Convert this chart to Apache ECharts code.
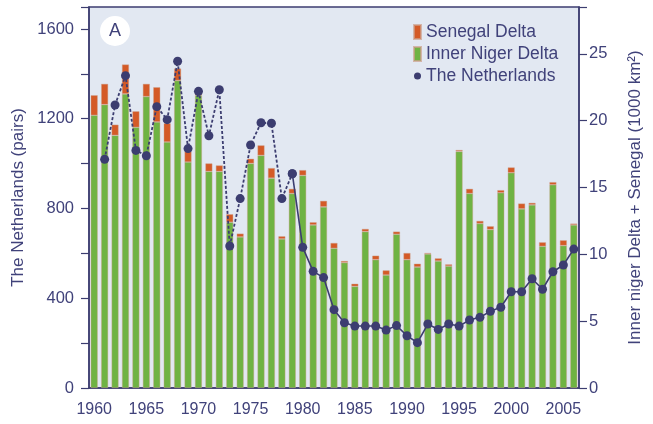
<!DOCTYPE html>
<html>
<head>
<meta charset="utf-8">
<script src="https://cdn.jsdelivr.net/npm/echarts@6/dist/echarts.min.js"></script>
<style>
  html, body { margin: 0; padding: 0; background: #fff; }
  #chart { width: 653px; height: 424px; }
</style>
</head>
<body>
<div id="chart"></div>
<script>
// years on the x axis
const years = [
  '1960', '1961', '1962', '1963', '1964', '1965', '1966', '1967', '1968', '1969',
  '1970', '1971', '1972', '1973', '1974', '1975', '1976', '1977', '1978', '1979',
  '1980', '1981', '1982', '1983', '1984', '1985', '1986', '1987', '1988', '1989',
  '1990', '1991', '1992', '1993', '1994', '1995', '1996', '1997', '1998', '1999',
  '2000', '2001', '2002', '2003', '2004', '2005', '2006'
];

// flooded area, 1000 km2 (right axis)
const innerNiger = [
  20.4, 21.2, 18.9, 22.0, 19.5, 21.8, 19.9, 18.4, 23.0, 16.9,
  21.9, 16.2, 16.2, 12.4, 11.3, 16.8, 17.4, 15.7, 11.15, 14.55,
  15.9, 12.2, 13.55, 10.45, 9.38, 7.6, 11.7, 9.6, 8.45, 11.5,
  9.6, 9.05, 10.03, 9.5, 9.12, 17.7, 14.55, 12.3, 11.85, 14.6,
  16.1, 13.4, 13.7, 10.6, 15.2, 10.65, 12.2
];
const senegal = [
  1.5, 1.55, 0.8, 2.2, 1.2, 0.95, 2.6, 1.4, 0.9, 0.8,
  0.3, 0.6, 0.45, 0.6, 0.25, 0.35, 0.75, 0.75, 0.2, 0.35,
  0.4, 0.2, 0.45, 0.4, 0.12, 0.2, 0.2, 0.3, 0.35, 0.2,
  0.5, 0.25, 0.07, 0.2, 0.13, 0.1, 0.35, 0.2, 0.25, 0.2,
  0.4, 0.4, 0.15, 0.3, 0.2, 0.4, 0.1
];

// breeding pairs in the Netherlands (left axis)
const netherlands = [
  null, 1019, 1261, 1392, 1059, 1035, 1254, 1196, 1456, 1067,
  1322, 1124, 1329, 633, 844, 1083, 1182, 1180, 844, 955,
  627, 520, 492, 349, 291, 276, 276, 276, 258, 278,
  233, 202, 285, 261, 285, 276, 303, 315, 342, 360,
  429, 429, 487, 440, 518, 548, 619
];
const dashedUntil = '1979'; // line is dashed up to this year, solid after

const navy = '#3c3d70';
const textColor = '#40427a';
const green = '#6fb343';
const orange = '#d45a27';

const splitIdx = years.indexOf(dashedUntil);
const nlDashed = netherlands.map((v, i) => (i <= splitIdx ? v : null));
const nlSolid = netherlands.map((v, i) => (i >= splitIdx ? v : null));

const chart = echarts.init(document.getElementById('chart'), null, { renderer: 'canvas' });

const barBorder = { borderColor: 'rgba(205,160,140,0.7)', borderWidth: 0.6 };

const option = {
  animation: false,
  textStyle: { fontFamily: 'Liberation Sans, Arial, sans-serif' },
  grid: {
    left: 89, right: 74, top: 7, bottom: 36,
    show: true,
    backgroundColor: '#e2e8f2',
    borderColor: navy,
    borderWidth: 1.5
  },
  legend: {
    orient: 'vertical',
    left: 408,
    top: 18,
    itemWidth: 7,
    itemHeight: 14,
    itemGap: 4,
    itemTextGap: 6,
    textStyle: { fontSize: 17.5, color: textColor },
    data: [
      { name: 'Senegal Delta', icon: 'rect' },
      { name: 'Inner Niger Delta', icon: 'rect' },
      { name: 'The Netherlands', icon: 'circle' }
    ]
  },
  xAxis: [
    {
      type: 'category',
      data: years,
      axisLine: { lineStyle: { color: navy, width: 1.5 } },
      axisTick: { alignWithLabel: true, interval: 0, length: 5, lineStyle: { color: navy, width: 1.2 } },
      axisLabel: { interval: 4, color: textColor, fontSize: 16, margin: 14 }
    },
    {
      type: 'category',
      data: years,
      position: 'bottom',
      axisLine: { show: false },
      axisTick: { alignWithLabel: true, interval: 4, length: 10, lineStyle: { color: navy, width: 1.2 } },
      axisLabel: { show: false }
    }
  ],
  yAxis: [
    {
      type: 'value',
      position: 'left',
      min: 0,
      max: 1698,
      interval: 200,
      splitLine: { show: false },
      axisLine: { show: true, lineStyle: { color: navy, width: 1.5 } },
      axisTick: { show: true, length: 8, lineStyle: { color: navy, width: 1.2 } },
      axisLabel: {
        color: textColor,
        fontSize: 16.5,
        margin: 15,
        padding: [0, 0, 8, 0],
        formatter: v => (v % 400 === 0 && v <= 1600 ? String(v) : '')
      },
      name: 'The Netherlands (pairs)',
      nameLocation: 'middle',
      nameRotate: 90,
      nameGap: 53,
      nameTextStyle: { color: textColor, fontSize: 17 }
    },
    {
      type: 'value',
      position: 'right',
      min: 0,
      max: 28.5,
      interval: 5,
      splitLine: { show: false },
      axisLine: { show: true, lineStyle: { color: navy, width: 1.5 } },
      axisTick: { show: true, length: 8, lineStyle: { color: navy, width: 1.2 } },
      axisLabel: {
        color: textColor,
        fontSize: 16.5,
        margin: 10,
        padding: [0, 0, 8, 0],
        formatter: v => (v % 5 === 0 && v <= 25 ? String(v) : '')
      },
      name: 'Inner niger Delta + Senegal (1000 km²)',
      nameLocation: 'middle',
      nameRotate: 90,
      nameGap: 48,
      nameTextStyle: { color: textColor, fontSize: 17 }
    }
  ],
  graphic: [
    {
      type: 'circle',
      shape: { cx: 115, cy: 31, r: 15 },
      style: { fill: '#ffffff' },
      z: 10
    },
    {
      type: 'text',
      x: 115,
      y: 31,
      style: {
        text: 'A',
        fill: textColor,
        font: '18px Liberation Sans, Arial, sans-serif',
        align: 'center',
        verticalAlign: 'middle'
      },
      z: 11
    }
  ],
  series: [
    {
      name: 'Inner Niger Delta',
      type: 'bar',
      stack: 'area',
      yAxisIndex: 1,
      barWidth: 7,
      itemStyle: Object.assign({ color: green }, barBorder),
      data: innerNiger
    },
    {
      name: 'Senegal Delta',
      type: 'bar',
      stack: 'area',
      yAxisIndex: 1,
      barWidth: 7,
      itemStyle: Object.assign({ color: orange }, barBorder),
      data: senegal
    },
    {
      name: 'The Netherlands',
      type: 'line',
      yAxisIndex: 0,
      data: nlDashed,
      symbol: 'circle',
      symbolSize: 9,
      showSymbol: true,
      showAllSymbol: true,
      connectNulls: false,
      itemStyle: { color: navy },
      lineStyle: { color: navy, width: 1.8, type: [3, 2] },
      z: 5
    },
    {
      name: 'The Netherlands',
      type: 'line',
      yAxisIndex: 0,
      data: nlSolid,
      symbol: 'circle',
      symbolSize: 9,
      showSymbol: true,
      showAllSymbol: true,
      connectNulls: false,
      itemStyle: { color: navy },
      lineStyle: { color: navy, width: 1.6 },
      z: 5
    }
  ]
};

chart.setOption(option);
</script>
</body>
</html>
